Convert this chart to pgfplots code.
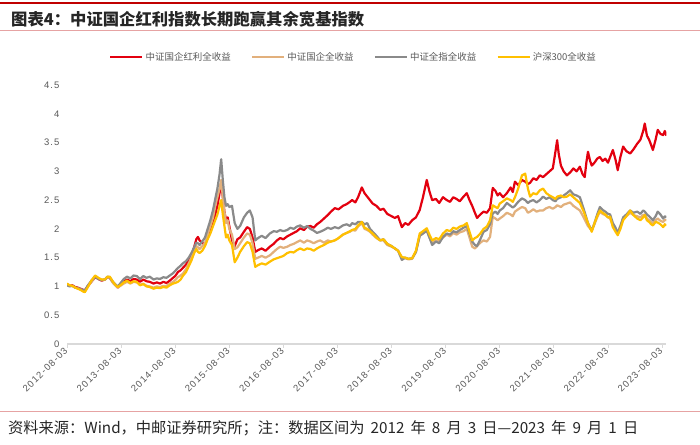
\documentclass[border=0pt]{standalone}
\usepackage{pgfplots}
\pgfplotsset{compat=1.18}
\usepackage{fontspec}
\setmainfont{Liberation Sans}
\newfontfamily\cjk{Noto Sans CJK SC}
\newfontfamily\tickfont[LetterSpace=12]{Liberation Sans}
\definecolor{cred}{HTML}{E3000F}
\definecolor{ctan}{HTML}{E2B07C}
\definecolor{cgray}{HTML}{8A8A8A}
\definecolor{cyel}{HTML}{FFC000}
\definecolor{txtgray}{HTML}{595959}
\definecolor{axgray}{HTML}{D9D9D9}
\definecolor{titlered}{HTML}{C00000}
\definecolor{linepink}{HTML}{E6A3A3}
\begin{document}
\begin{tikzpicture}[x=1bp,y=1bp]
\useasboundingbox (0,0) rectangle (700,445);
\fill[white] (0,0) rectangle (700,445);
\draw[titlered, line width=2.2bp] (0,442) -- (700,442);
\node[anchor=west, inner sep=0pt, font=\cjk\bfseries\fontsize{16.4}{19}\selectfont, text=black!85] at (11,426) {图表4：中证国企红利指数长期跑赢其余宽基指数};
\draw[linepink, line width=0.8bp] (0,415) -- (700,415);
\draw[linepink, line width=0.8bp] (0,34) -- (700,34);
\node[anchor=west, inner sep=0pt, font=\cjk\fontsize{15.3}{17}\selectfont, text=black!85] at (8,17) {资料来源：Wind，中邮证券研究所；注：数据区间为\hspace{0.4em}2012\hspace{0.4em}年\hspace{0.4em}8\hspace{0.4em}月\hspace{0.4em}3\hspace{0.4em}日—2023\hspace{0.4em}年\hspace{0.4em}9\hspace{0.4em}月\hspace{0.4em}1\hspace{0.4em}日};
\begin{axis}[
  at={(67bp,101bp)}, anchor=south west, scale only axis,
  width=599.4bp, height=259bp,
  xmin=0, xmax=11.08, ymin=0, ymax=4.5,
  axis x line*=bottom, axis y line*=left,
  y axis line style={draw=none},
  x axis line style={axgray, line width=1.2bp},
  ytick={0,0.5,...,4.5},
  xtick={0,1,2,3,4,5,6,7,8,9,10,11},
  xticklabels={2012-08-03,2013-08-03,2014-08-03,2015-08-03,2016-08-03,2017-08-03,2018-08-03,2019-08-03,2020-08-03,2021-08-03,2022-08-03,2023-08-03},
  tick align=outside, major tick length=4bp,
  x tick style={axgray, line width=0.8bp},
  y tick style={draw=none},
  /pgf/number format/assume math mode=true,
  ticklabel style={font=\tickfont\fontsize{9.5}{10}\selectfont, text=txtgray},
  xticklabel style={rotate=45, anchor=east, inner sep=1.5bp},
  legend style={at={(0.478,1.108)}, anchor=center, draw=none, fill=none,
    font=\cjk\fontsize{9.5}{11}\selectfont, text=txtgray,
    /tikz/every even column/.append style={column sep=18bp}},
  legend columns=4,
  legend image code/.code={\draw[#1, line width=2.5bp] (0bp,0bp) -- (32bp,0bp);},
]
\addplot[cred, line width=2.2bp, line join=round] table {
0.00 1.03
0.05 1.01
0.10 1.02
0.15 0.99
0.20 0.98
0.25 0.96
0.30 0.94
0.33 0.93
0.38 1.00
0.45 1.08
0.52 1.16
0.58 1.13
0.64 1.10
0.70 1.12
0.75 1.16
0.79 1.15
0.85 1.07
0.90 1.02
0.94 0.98
1.00 1.03
1.05 1.08
1.11 1.12
1.17 1.09
1.23 1.13
1.29 1.12
1.35 1.08
1.41 1.12
1.47 1.09
1.53 1.08
1.60 1.05
1.66 1.07
1.72 1.05
1.78 1.08
1.84 1.06
1.90 1.10
1.96 1.15
2.00 1.18
2.05 1.25
2.10 1.28
2.14 1.32
2.20 1.38
2.25 1.45
2.30 1.52
2.35 1.68
2.39 1.82
2.42 1.86
2.45 1.80
2.50 1.76
2.55 1.72
2.60 1.85
2.65 1.98
2.70 2.10
2.74 2.25
2.78 2.40
2.82 2.62
2.85 2.80
2.88 2.55
2.91 2.30
2.94 2.15
2.97 2.20
3.00 2.05
3.05 1.80
3.10 1.70
3.15 1.82
3.20 1.85
3.27 1.95
3.33 2.03
3.38 2.00
3.43 1.85
3.48 1.60
3.53 1.63
3.60 1.66
3.67 1.62
3.75 1.69
3.82 1.74
3.88 1.80
3.94 1.84
4.00 1.82
4.07 1.87
4.13 1.90
4.19 1.93
4.25 1.96
4.31 2.01
4.38 1.98
4.44 2.04
4.50 2.05
4.56 2.02
4.62 2.08
4.68 2.12
4.75 2.18
4.82 2.24
4.88 2.30
4.95 2.36
5.02 2.34
5.10 2.40
5.17 2.43
5.23 2.47
5.27 2.50
5.33 2.46
5.38 2.55
5.45 2.72
5.50 2.62
5.55 2.56
5.60 2.50
5.65 2.44
5.72 2.40
5.79 2.33
5.85 2.35
5.92 2.26
6.00 2.22
6.06 2.19
6.12 2.22
6.19 2.03
6.25 2.10
6.31 2.07
6.38 2.15
6.45 2.20
6.52 2.33
6.58 2.55
6.65 2.85
6.70 2.65
6.75 2.50
6.82 2.52
6.88 2.45
6.95 2.55
7.02 2.50
7.08 2.47
7.14 2.55
7.20 2.52
7.26 2.48
7.33 2.56
7.39 2.62
7.44 2.50
7.49 2.40
7.54 2.28
7.58 2.19
7.64 2.25
7.70 2.30
7.76 2.28
7.82 2.36
7.87 2.71
7.92 2.66
7.96 2.58
8.00 2.62
8.06 2.55
8.13 2.62
8.20 2.72
8.24 2.64
8.28 2.82
8.34 2.76
8.41 2.85
8.47 2.82
8.52 2.78
8.56 2.80
8.62 2.88
8.68 2.85
8.74 2.93
8.80 2.90
8.86 2.95
8.92 3.00
8.98 3.05
9.03 3.35
9.06 3.54
9.09 3.30
9.13 3.10
9.18 3.00
9.24 2.93
9.30 2.98
9.36 3.05
9.42 3.00
9.48 3.08
9.53 2.95
9.57 2.90
9.60 3.15
9.63 3.34
9.67 3.18
9.70 3.10
9.75 3.15
9.80 3.22
9.85 3.25
9.90 3.18
9.95 3.22
10.00 3.15
10.04 3.25
10.09 3.37
10.14 3.20
10.18 3.02
10.23 3.25
10.28 3.43
10.34 3.35
10.41 3.31
10.47 3.38
10.54 3.48
10.60 3.55
10.65 3.70
10.68 3.83
10.72 3.62
10.76 3.55
10.80 3.45
10.83 3.37
10.88 3.55
10.92 3.72
10.97 3.65
11.02 3.63
11.05 3.70
11.08 3.62
};
\addlegendentry{中证国企红利全收益}
\addplot[ctan, line width=2.2bp, line join=round] table {
0.00 1.03
0.05 1.01
0.10 1.01
0.15 0.98
0.20 0.97
0.25 0.95
0.30 0.93
0.33 0.92
0.38 0.99
0.45 1.08
0.52 1.17
0.58 1.14
0.64 1.11
0.70 1.12
0.75 1.16
0.79 1.15
0.85 1.06
0.90 1.01
0.94 0.98
1.00 1.02
1.05 1.05
1.11 1.08
1.17 1.05
1.23 1.08
1.29 1.07
1.35 1.03
1.41 1.05
1.47 1.01
1.53 1.00
1.60 0.98
1.66 1.00
1.72 0.99
1.78 1.01
1.84 1.01
1.90 1.05
1.96 1.08
2.00 1.11
2.05 1.16
2.10 1.19
2.14 1.22
2.20 1.30
2.25 1.40
2.30 1.50
2.35 1.62
2.39 1.70
2.42 1.68
2.45 1.65
2.50 1.70
2.55 1.75
2.60 1.90
2.65 2.05
2.70 2.20
2.74 2.40
2.78 2.55
2.82 2.70
2.85 2.85
2.88 2.55
2.91 2.30
2.94 2.10
2.97 2.15
3.00 2.00
3.05 1.90
3.10 1.65
3.15 1.68
3.20 1.75
3.27 1.85
3.33 1.92
3.38 1.90
3.43 1.75
3.48 1.48
3.53 1.50
3.60 1.53
3.67 1.50
3.75 1.54
3.82 1.60
3.88 1.65
3.94 1.69
4.00 1.67
4.07 1.69
4.13 1.72
4.19 1.74
4.25 1.77
4.31 1.80
4.38 1.76
4.44 1.80
4.50 1.78
4.56 1.75
4.62 1.78
4.68 1.80
4.75 1.76
4.82 1.80
4.88 1.78
4.95 1.80
5.02 1.84
5.10 1.90
5.17 1.93
5.23 1.95
5.27 1.98
5.33 1.97
5.38 2.04
5.45 2.10
5.50 2.00
5.55 1.98
5.60 1.95
5.65 1.90
5.72 1.84
5.79 1.80
5.85 1.80
5.92 1.72
6.00 1.69
6.06 1.66
6.12 1.62
6.19 1.50
6.25 1.49
6.31 1.47
6.38 1.48
6.45 1.60
6.52 1.88
6.58 1.92
6.65 1.97
6.70 1.85
6.75 1.75
6.82 1.80
6.88 1.78
6.95 1.85
7.02 1.90
7.08 1.87
7.14 1.93
7.20 1.90
7.26 1.94
7.33 1.96
7.39 2.00
7.44 1.85
7.49 1.69
7.54 1.66
7.58 1.70
7.64 1.76
7.70 1.80
7.76 1.78
7.82 1.86
7.87 2.21
7.92 2.18
7.96 2.15
8.00 2.18
8.06 2.22
8.13 2.28
8.20 2.25
8.24 2.22
8.28 2.30
8.34 2.34
8.41 2.38
8.47 2.36
8.52 2.28
8.56 2.30
8.62 2.34
8.68 2.30
8.74 2.32
8.80 2.32
8.86 2.36
8.92 2.38
8.98 2.35
9.03 2.38
9.06 2.41
9.13 2.38
9.18 2.42
9.24 2.44
9.30 2.46
9.36 2.40
9.42 2.36
9.48 2.32
9.55 2.20
9.63 2.05
9.70 1.97
9.75 2.08
9.80 2.20
9.85 2.30
9.90 2.26
9.95 2.24
10.00 2.20
10.04 2.18
10.09 2.05
10.14 1.98
10.18 1.95
10.23 2.05
10.28 2.18
10.34 2.22
10.41 2.28
10.47 2.24
10.54 2.22
10.60 2.20
10.65 2.24
10.68 2.25
10.72 2.18
10.76 2.15
10.80 2.12
10.83 2.10
10.88 2.15
10.92 2.18
10.97 2.14
11.02 2.12
11.05 2.16
11.08 2.15
};
\addlegendentry{中证国企全收益}
\addplot[cgray, line width=2.2bp, line join=round] table {
0.00 1.02
0.05 1.00
0.10 1.01
0.15 0.98
0.20 0.97
0.25 0.95
0.30 0.94
0.33 0.93
0.38 1.01
0.45 1.10
0.52 1.17
0.58 1.13
0.64 1.11
0.70 1.12
0.75 1.17
0.79 1.16
0.85 1.08
0.90 1.03
0.94 1.00
1.00 1.07
1.05 1.13
1.11 1.17
1.17 1.14
1.23 1.19
1.29 1.18
1.35 1.13
1.41 1.18
1.47 1.15
1.53 1.17
1.60 1.12
1.66 1.14
1.72 1.13
1.78 1.16
1.84 1.15
1.90 1.19
1.96 1.23
2.00 1.27
2.05 1.32
2.10 1.36
2.14 1.40
2.20 1.44
2.25 1.50
2.30 1.58
2.35 1.68
2.39 1.76
2.42 1.75
2.45 1.72
2.50 1.78
2.55 1.85
2.60 2.00
2.65 2.15
2.70 2.33
2.74 2.52
2.78 2.70
2.82 2.95
2.85 3.21
2.88 2.85
2.91 2.55
2.94 2.40
2.97 2.43
3.00 2.38
3.05 2.40
3.10 2.10
3.15 2.00
3.20 2.05
3.27 2.20
3.33 2.28
3.38 2.32
3.43 2.20
3.48 1.80
3.53 1.84
3.60 1.88
3.67 1.84
3.75 1.92
3.82 1.96
3.88 1.95
3.94 1.98
4.00 1.96
4.07 1.98
4.13 2.02
4.19 2.00
4.25 2.04
4.31 2.06
4.38 2.02
4.44 2.05
4.50 2.00
4.56 1.97
4.62 1.93
4.68 1.95
4.75 1.98
4.82 2.02
4.88 2.00
4.95 2.03
5.02 2.01
5.10 2.06
5.17 2.08
5.23 2.05
5.27 2.10
5.33 2.08
5.38 2.12
5.45 2.12
5.50 2.08
5.55 2.10
5.60 2.00
5.65 1.95
5.72 1.88
5.79 1.80
5.85 1.82
5.92 1.74
6.00 1.70
6.06 1.66
6.12 1.62
6.19 1.46
6.25 1.50
6.31 1.48
6.38 1.49
6.45 1.60
6.52 1.88
6.58 1.92
6.65 1.97
6.70 1.85
6.75 1.72
6.82 1.78
6.88 1.75
6.95 1.86
7.02 1.92
7.08 1.90
7.14 1.96
7.20 1.94
7.26 1.98
7.33 2.02
7.39 2.05
7.44 1.92
7.49 1.78
7.54 1.72
7.58 1.70
7.64 1.82
7.70 1.95
7.76 1.98
7.82 2.08
7.87 2.27
7.92 2.30
7.96 2.26
8.00 2.32
8.06 2.36
8.13 2.45
8.20 2.40
8.24 2.37
8.28 2.40
8.34 2.47
8.41 2.53
8.47 2.50
8.52 2.45
8.56 2.48
8.62 2.50
8.68 2.46
8.74 2.50
8.80 2.56
8.86 2.52
8.92 2.55
8.98 2.50
9.03 2.48
9.06 2.52
9.13 2.55
9.18 2.58
9.24 2.62
9.30 2.67
9.36 2.60
9.42 2.58
9.48 2.55
9.55 2.35
9.63 2.10
9.70 1.97
9.75 2.10
9.80 2.25
9.85 2.38
9.90 2.33
9.95 2.30
10.00 2.26
10.04 2.25
10.09 2.10
10.14 2.02
10.18 1.92
10.23 2.05
10.28 2.20
10.34 2.25
10.41 2.32
10.47 2.28
10.54 2.30
10.60 2.26
10.65 2.32
10.68 2.30
10.72 2.25
10.76 2.22
10.80 2.18
10.83 2.15
10.88 2.22
10.92 2.30
10.97 2.25
11.02 2.18
11.05 2.22
11.08 2.20
};
\addlegendentry{中证全指全收益}
\addplot[cyel, line width=2.2bp, line join=round] table {
0.00 1.05
0.05 1.02
0.10 1.01
0.15 0.98
0.20 0.96
0.25 0.94
0.30 0.91
0.33 0.90
0.38 0.98
0.45 1.10
0.52 1.19
0.58 1.15
0.64 1.12
0.70 1.12
0.75 1.17
0.79 1.17
0.85 1.08
0.90 1.02
0.94 0.99
1.00 1.03
1.05 1.07
1.11 1.10
1.17 1.06
1.23 1.09
1.29 1.08
1.35 1.02
1.41 1.04
1.47 1.00
1.53 0.99
1.60 0.96
1.66 0.98
1.72 0.97
1.78 0.99
1.84 0.98
1.90 1.02
1.96 1.05
2.00 1.06
2.05 1.08
2.10 1.12
2.14 1.18
2.20 1.25
2.25 1.35
2.30 1.45
2.35 1.58
2.39 1.65
2.42 1.60
2.45 1.58
2.50 1.62
2.55 1.70
2.60 1.82
2.65 1.92
2.70 2.05
2.74 2.15
2.78 2.25
2.82 2.40
2.85 2.50
2.88 2.25
2.91 2.05
2.94 1.85
2.97 1.90
3.00 1.80
3.05 1.72
3.10 1.42
3.15 1.50
3.20 1.60
3.27 1.70
3.33 1.77
3.38 1.75
3.43 1.60
3.48 1.34
3.53 1.37
3.60 1.40
3.67 1.38
3.75 1.43
3.82 1.47
3.88 1.49
3.94 1.51
4.00 1.53
4.07 1.58
4.13 1.60
4.19 1.59
4.25 1.63
4.31 1.66
4.38 1.63
4.44 1.66
4.50 1.65
4.56 1.62
4.62 1.66
4.68 1.69
4.75 1.72
4.82 1.76
4.88 1.78
4.95 1.80
5.02 1.84
5.10 1.90
5.17 1.93
5.23 1.96
5.27 1.98
5.33 2.00
5.38 2.06
5.45 2.12
5.50 2.02
5.55 2.00
5.60 1.96
5.65 1.92
5.72 1.85
5.79 1.80
5.85 1.82
5.92 1.74
6.00 1.70
6.06 1.66
6.12 1.62
6.19 1.51
6.25 1.50
6.31 1.48
6.38 1.49
6.45 1.62
6.52 1.92
6.58 1.96
6.65 2.01
6.70 1.90
6.75 1.80
6.82 1.84
6.88 1.82
6.95 1.92
7.02 1.98
7.08 1.96
7.14 2.02
7.20 2.00
7.26 2.04
7.33 2.06
7.39 2.10
7.44 1.95
7.49 1.80
7.54 1.84
7.58 1.86
7.64 1.92
7.70 2.00
7.76 2.04
7.82 2.15
7.87 2.41
7.92 2.38
7.96 2.36
8.00 2.44
8.06 2.48
8.13 2.53
8.20 2.50
8.24 2.47
8.28 2.55
8.34 2.70
8.41 2.93
8.47 2.96
8.52 2.70
8.56 2.56
8.62 2.62
8.68 2.60
8.74 2.67
8.80 2.70
8.86 2.62
8.92 2.58
8.98 2.55
9.03 2.52
9.06 2.56
9.13 2.58
9.18 2.55
9.24 2.56
9.30 2.60
9.36 2.55
9.42 2.50
9.48 2.45
9.55 2.30
9.63 2.10
9.70 1.95
9.75 2.10
9.80 2.22
9.85 2.32
9.90 2.28
9.95 2.25
10.00 2.20
10.04 2.21
10.09 2.03
10.14 1.95
10.18 1.89
10.23 2.00
10.28 2.15
10.34 2.22
10.41 2.32
10.47 2.24
10.54 2.18
10.60 2.15
10.65 2.20
10.68 2.24
10.72 2.15
10.76 2.12
10.80 2.08
10.83 2.06
10.88 2.12
10.92 2.11
10.97 2.08
11.02 2.03
11.05 2.08
11.08 2.06
};
\addlegendentry{沪深300全收益}
\end{axis}
\end{tikzpicture}
\end{document}
